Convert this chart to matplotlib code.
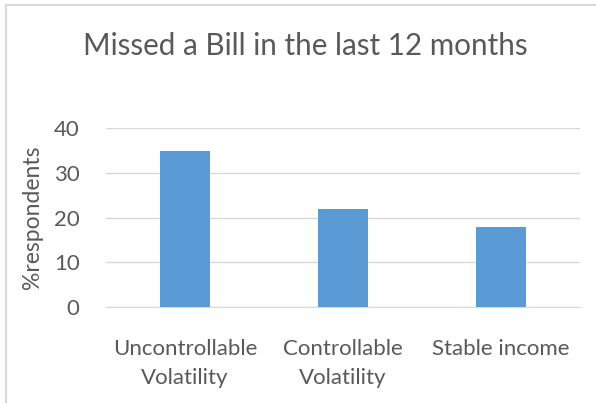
import matplotlib.pyplot as plt

categories = ['Uncontrollable\nVolatility', 'Controllable\nVolatility', 'Stable income']
values = [35, 22, 18]
yticks = [0, 10, 20, 30, 40]

plt.rcParams['font.family'] = ['Lato', 'DejaVu Sans']
txt = '#595959'

fig = plt.figure(figsize=(5.96, 4.03), dpi=100)
ax = fig.add_axes([0.178, 0.238, 0.795, 0.444])

x = range(len(categories))
ax.bar(x, values, width=0.32, color='#5B9BD5', zorder=3)

ax.set_xlim(-0.5, len(categories) - 0.5)
ax.set_ylim(0, 40)
ax.set_yticks(yticks)
ax.set_xticks(list(x))
ax.set_xticklabels(categories, fontsize=16, color=txt, linespacing=1.55)
ax.tick_params(axis='y', labelsize=16, labelcolor=txt, length=0, pad=19)
ax.tick_params(axis='x', length=0, pad=23)

ax.grid(axis='y', color='#D9D9D9', linewidth=1, zorder=0)
for s in ['top', 'right', 'left']:
    ax.spines[s].set_visible(False)
ax.spines['bottom'].set_color('#D9D9D9')

ax.set_ylabel('%respondents', fontsize=16.5, color=txt, labelpad=8)
fig.text(0.512, 0.885, 'Missed a Bill in the last 12 months', fontsize=21.3,
         color=txt, ha='center', va='center')

# chart border (only left and top edges visible in the crop)
fig.add_artist(plt.Line2D([0.010, 0.010], [0, 0.988], color='#D9D9D9', lw=1.5))
fig.add_artist(plt.Line2D([0.010, 1.0], [0.988, 0.988], color='#D9D9D9', lw=1.5))

fig.savefig('out.png', dpi=100)
